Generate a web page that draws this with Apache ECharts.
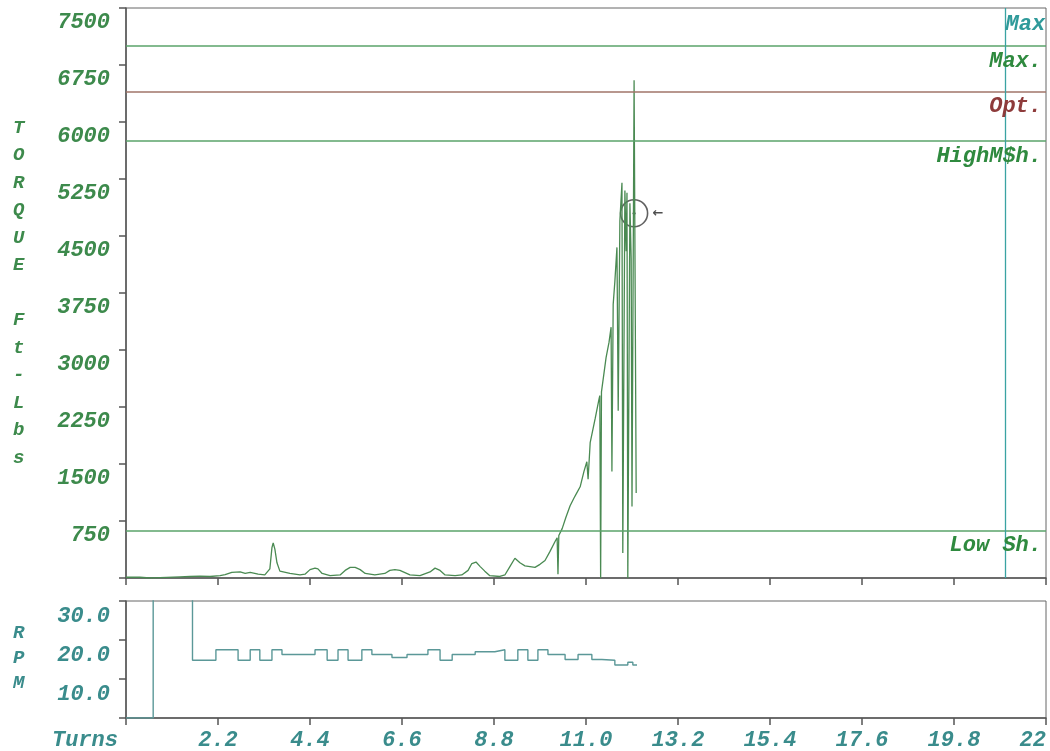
<!DOCTYPE html>
<html>
<head>
<meta charset="utf-8">
<script src="https://cdn.jsdelivr.net/npm/echarts@6/dist/echarts.min.js"></script>
<style>
html,body{margin:0;padding:0;background:#fff;}
#c{width:1050px;height:751px;}
</style>
</head>
<body>
<div id="c"></div>
<script>
// ---- data ----
const torqueTurns = [0.00,0.33,0.57,0.81,1.29,1.53,1.77,2.01,2.25,2.37,2.53,2.73,2.85,2.97,3.16,3.32,3.44,3.49,3.52,3.56,3.61,3.68,3.92,4.16,4.28,4.40,4.52,4.59,4.69,4.88,5.12,5.24,5.36,5.48,5.60,5.72,5.95,6.19,6.31,6.43,6.55,6.67,6.79,7.03,7.27,7.39,7.51,7.63,7.87,8.03,8.18,8.27,8.37,8.47,8.58,8.70,8.94,9.06,9.18,9.30,9.42,9.54,9.66,9.78,9.90,10.02,10.14,10.26,10.31,10.33,10.35,10.43,10.52,10.62,10.71,10.78,10.86,10.95,11.02,11.05,11.10,11.22,11.31,11.33,11.35,11.37,11.48,11.55,11.60,11.62,11.65,11.69,11.74,11.77,11.81,11.86,11.88,11.93,11.96,11.98,12.00,12.05,12.08,12.10,12.15,12.20];
const torqueValues = [10,10,0,5,15,20,25,20,30,45,75,80,60,75,50,40,120,400,460,380,200,90,60,40,50,110,130,120,60,30,40,100,140,140,110,60,40,60,100,110,100,70,40,30,80,130,100,40,30,40,100,190,210,150,90,30,20,40,150,260,200,160,150,140,180,230,350,480,530,50,560,650,800,950,1050,1120,1200,1400,1530,1300,1780,2100,2350,2400,0,2450,2900,3100,3300,1400,3600,3900,4350,2200,4700,5200,330,5100,4300,5070,0,4930,4200,940,6550,1120];

const rpmTurns  = [0.00,0.65,1.59,2.15,2.68,2.97,3.20,3.49,3.73,4.52,4.81,5.07,5.31,5.64,5.88,6.36,6.72,7.22,7.51,7.80,8.35,8.82,9.06,9.37,9.61,9.85,10.09,10.50,10.81,11.14,11.38,11.69,12.00,12.12,12.22];
const rpmValues = [0,40,14.8,17.5,14.8,17.5,14.8,17.5,16.3,17.5,14.8,17.5,14.8,17.5,16.3,15.5,16.3,17.5,14.8,16.3,17.0,17.5,14.8,17.5,14.8,17.5,16.3,15.0,16.3,15.0,14.8,13.6,14.3,13.6,13.6];

const torqueTickLabels = ['', '750', '1500', '2250', '3000', '3750', '4500', '5250', '6000', '6750', '7500'];
const rpmTickLabels = ['', '10.0', '20.0', '30.0'];
const turnsTickLabels = ['Turns', '2.2', '4.4', '6.6', '8.8', '11.0', '13.2', '15.4', '17.6', '19.8', '22'];

const limitNames  = ['Max.', 'Opt.', 'HighM$h.', 'Low Sh.'];
const limitValues = [7000, 6400, 5750, 620];
const maxTurnsName = 'Max';
const maxTurnsValue = 21.02;

const markerPoint = [12.15, 4800];

// ---- styles ----
const FONT = "'Liberation Mono', 'DejaVu Sans Mono', monospace";
const GREEN_TXT = '#3d8a4c';
const TEAL_TXT = '#3a8c8c';
const GREEN_LINE = '#5aa36a';
const OPT_LINE = '#a07468';
const OPT_TXT = '#8e3b3b';
const AXIS_COL = '#555';

const limitColors = ['#2f8a3f', OPT_TXT, '#2f8a3f', '#2f8a3f'];
const limitLineColors = [GREEN_LINE, OPT_LINE, GREEN_LINE, GREEN_LINE];

const chart = echarts.init(document.getElementById('c'));

const torqueData = torqueTurns.map((t, i) => [t, torqueValues[i]]);
const rpmData = rpmTurns.map((t, i) => [t, rpmValues[i]]);

const markLineData = limitNames.map((n, i) => ({
  name: n, yAxis: limitValues[i],
  lineStyle: {color: limitLineColors[i], width: 1.5, type: 'solid'},
  label: {color: limitColors[i]}
}));
markLineData.push({
  name: maxTurnsName, xAxis: maxTurnsValue,
  lineStyle: {color: '#3aa3a3', width: 1.3, type: 'solid'},
  label: {show: false}
});

const labelBase = {fontFamily: FONT, fontStyle: 'italic', fontWeight: 'bold', fontSize: 22};

chart.setOption({
  animation: false,
  backgroundColor: '#fff',
  grid: [
    {left: 126, right: 4, top: 8, bottom: 173, show: true, borderColor: '#666', borderWidth: 1},
    {left: 126, right: 4, top: 601, bottom: 30, show: true, borderColor: '#666', borderWidth: 1}
  ],
  xAxis: [
    {gridIndex: 0, type: 'value', min: 0, max: 22, interval: 2.2,
     axisLine: {lineStyle: {color: AXIS_COL, width: 1.5}},
     axisTick: {show: true, length: 7, lineStyle: {color: AXIS_COL, width: 1.5}},
     axisLabel: {show: false}, splitLine: {show: false}},
    {gridIndex: 1, type: 'value', min: 0, max: 22, interval: 2.2,
     axisLine: {lineStyle: {color: AXIS_COL, width: 1.5}},
     axisTick: {show: true, length: 7, lineStyle: {color: AXIS_COL, width: 1.5}},
     axisLabel: Object.assign({}, labelBase, {
       color: TEAL_TXT, margin: 11, alignMaxLabel: 'right', alignMinLabel: 'right',
       formatter: (v, i) => i === 0 ? '{t|' + turnsTickLabels[0] + '}' : turnsTickLabels[i],
       rich: {t: Object.assign({}, labelBase, {color: TEAL_TXT, padding: [0, 8, 0, 0]})}
     }),
     splitLine: {show: false}}
  ],
  yAxis: [
    {gridIndex: 0, type: 'value', min: 0, max: 7500, interval: 750,
     axisLine: {show: true, lineStyle: {color: AXIS_COL, width: 1.5}},
     axisTick: {show: true, length: 7, lineStyle: {color: AXIS_COL, width: 1.5}},
     axisLabel: Object.assign({}, labelBase, {
       color: GREEN_TXT, margin: 16, verticalAlign: 'top', padding: [3, 0, 0, 0],
       formatter: (v, i) => torqueTickLabels[i]
     }),
     splitLine: {show: false}},
    {gridIndex: 1, type: 'value', min: 0, max: 30, interval: 10,
     axisLine: {show: true, lineStyle: {color: AXIS_COL, width: 1.5}},
     axisTick: {show: true, length: 7, lineStyle: {color: AXIS_COL, width: 1.5}},
     axisLabel: Object.assign({}, labelBase, {
       color: TEAL_TXT, margin: 16, verticalAlign: 'top', padding: [4, 0, 0, 0],
       formatter: (v, i) => rpmTickLabels[i]
     }),
     splitLine: {show: false}}
  ],
  series: [
    {type: 'line', xAxisIndex: 0, yAxisIndex: 0, data: torqueData,
     showSymbol: false, symbol: 'none', clip: true,
     lineStyle: {color: '#4a8a52', width: 1.3},
     markLine: {
       silent: true, symbol: 'none', animation: false,
       label: Object.assign({}, labelBase, {position: 'insideEndBottom', formatter: '{b}', distance: 4}),
       data: markLineData
     },
     markPoint: {
       silent: true, symbol: 'rect', symbolSize: 1,
       itemStyle: {color: 'rgba(0,0,0,0)'},
       label: Object.assign({}, labelBase, {color: '#2f9a9a', position: [1, 6], formatter: '{b}'}),
       data: [{name: maxTurnsName, coord: [maxTurnsValue, 7500]}]
     }
    },
    {type: 'scatter', xAxisIndex: 0, yAxisIndex: 0, data: [markerPoint],
     symbol: 'circle', symbolSize: 27, silent: true,
     itemStyle: {color: 'rgba(0,0,0,0)', borderColor: '#3a3a3a', borderWidth: 1.6},
     label: {show: true, position: 'right', distance: 4, formatter: '\u2190',
       fontFamily: 'DejaVu Sans', fontSize: 13, fontWeight: 'bold', color: '#222'}},
    {type: 'scatter', xAxisIndex: 0, yAxisIndex: 0, data: [markerPoint],
     symbol: 'circle', symbolSize: 3, silent: true,
     itemStyle: {color: '#333'}},
    {type: 'line', xAxisIndex: 1, yAxisIndex: 1, data: rpmData, step: 'end',
     showSymbol: false, symbol: 'none', clip: true,
     lineStyle: {color: '#5b9898', width: 1.4}}
  ],
  graphic: [
    {type: 'text', left: 13, top: 114, style: {
      text: ['T','O','R','Q','U','E',' ','F','t','-','L','b','s'].join('\n'),
      fontFamily: FONT, fontStyle: 'italic', fontWeight: 'bold', fontSize: 19, lineHeight: 27.5,
      fill: GREEN_TXT, align: 'left'}},
    {type: 'text', left: 13, top: 621, style: {
      text: ['R','P','M'].join('\n'),
      fontFamily: FONT, fontStyle: 'italic', fontWeight: 'bold', fontSize: 19, lineHeight: 25,
      fill: TEAL_TXT, align: 'left'}}
  ]
});
</script>
</body>
</html>
